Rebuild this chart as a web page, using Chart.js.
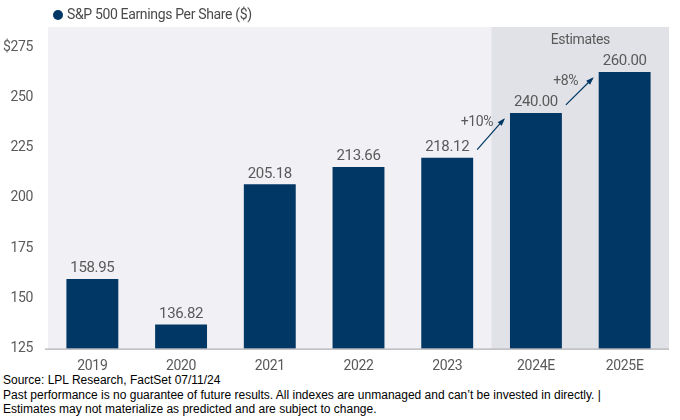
<!DOCTYPE html>
<html>
<head>
<meta charset="utf-8">
<script src="https://cdn.jsdelivr.net/npm/chart.js@4/dist/chart.umd.min.js"></script>
<style>
  body { margin: 0; background: #fff; }
  #wrap { position: relative; width: 680px; height: 420px; }
  #chartBox { position: absolute; left: 0; top: 0; width: 680px; height: 372px; }
  #legend { position: absolute; left: 53px; top: 6px; font: 14px Roboto, sans-serif; letter-spacing: -0.35px; color: #4a4a4a; }
  #legend .dot { display: inline-block; width: 10px; height: 10px; border-radius: 50%; background: #003764; margin-right: 4px; vertical-align: -1px; }
  #footer { position: absolute; left: 3px; top: 373px; font: 12px "Liberation Sans", Arial, sans-serif; line-height: 14.5px; color: #000; }
</style>
</head>
<body>
<div id="wrap">
  <div id="chartBox"><canvas id="epsChart"></canvas></div>
  <div id="legend"><span class="dot"></span>S&amp;P 500 Earnings Per Share ($)</div>
  <div id="footer">
    Source: LPL Research, FactSet 07/11/24<br>
    Past performance is no guarantee of future results. All indexes are unmanaged and can’t be invested in directly. |<br>
    Estimates may not materialize as predicted and are subject to change.
  </div>
</div>
<script>
// Chart data
const years = ['2019', '2020', '2021', '2022', '2023', '2024E', '2025E'];
const eps = [158.95, 136.82, 205.18, 213.66, 218.12, 240.00, 260.00];
const yTicks = [125, 150, 175, 200, 225, 250, 275];
const growthLabels = ['+10%', '+8%'];   // 2023 -> 2024E, 2024E -> 2025E
const firstEstimate = 5;                 // index of 2024E

const navy = '#003764';
const textGray = '#5a5a5a';
const fontFamily = 'Roboto, sans-serif';

// Draws the plot background, estimates shading, baseline, value labels and arrows
const decorations = {
  id: 'decorations',
  beforeDraw(chart) {
    chart.ctx.letterSpacing = '-0.35px';
  },
  beforeDatasetsDraw(chart) {
    const { ctx, chartArea, scales } = chart;
    const x = scales.x, y = scales.y;
    const catW = x.getPixelForValue(1) - x.getPixelForValue(0);
    const bottom = y.getPixelForValue(125);
    ctx.save();
    ctx.fillStyle = '#f0f0f5';
    ctx.fillRect(chartArea.left, chartArea.top, chartArea.width, bottom - chartArea.top);
    const estLeft = x.getPixelForValue(firstEstimate) - catW * 0.5;
    ctx.fillStyle = '#e1e2e7';
    ctx.fillRect(estLeft, chartArea.top, chartArea.right - estLeft, bottom - chartArea.top);
    ctx.fillStyle = textGray;
    ctx.font = '14px ' + fontFamily;
    ctx.textAlign = 'center';
    ctx.textBaseline = 'middle';
    ctx.fillText('Estimates', (estLeft + chartArea.right) / 2, chartArea.top + 13);
    ctx.restore();
  },
  afterDatasetsDraw(chart) {
    const { ctx, chartArea, scales } = chart;
    const y = scales.y;
    const bars = chart.getDatasetMeta(0).data;
    const bottom = y.getPixelForValue(125);
    ctx.save();
    // baseline
    ctx.strokeStyle = '#9a9aa0';
    ctx.lineWidth = 1;
    ctx.beginPath();
    ctx.moveTo(chartArea.left - 3, bottom + 0.5);
    ctx.lineTo(chartArea.right, bottom + 0.5);
    ctx.stroke();

    // value labels
    ctx.fillStyle = textGray;
    ctx.font = '15px ' + fontFamily;
    ctx.textAlign = 'center';
    ctx.textBaseline = 'bottom';
    bars.forEach((b, i) => {
      ctx.fillText(eps[i].toFixed(2), b.x, b.y - 3);
    });

    // growth arrows
    growthLabels.forEach((lbl, k) => {
      const i = firstEstimate - 1 + k;
      const a = bars[i], b = bars[i + 1];
      const x0 = a.x + a.width / 2 + 4;
      const y0 = y.getPixelForValue(eps[i] + 4);
      const x1 = b.x - b.width / 2 - 6;
      const y1 = y.getPixelForValue(eps[i + 1] - 3);
      ctx.strokeStyle = navy;
      ctx.fillStyle = navy;
      ctx.lineWidth = 1.2;
      ctx.beginPath();
      ctx.moveTo(x0, y0);
      ctx.lineTo(x1, y1);
      ctx.stroke();
      const ang = Math.atan2(y1 - y0, x1 - x0);
      const h = 7;
      ctx.beginPath();
      ctx.moveTo(x1 + 1, y1 - 1);
      ctx.lineTo(x1 - h * Math.cos(ang - 0.4), y1 - h * Math.sin(ang - 0.4));
      ctx.lineTo(x1 - h * Math.cos(ang + 0.4), y1 - h * Math.sin(ang + 0.4));
      ctx.closePath();
      ctx.fill();
      ctx.fillStyle = textGray;
      ctx.font = '14px ' + fontFamily;
      ctx.textAlign = 'center';
      ctx.textBaseline = 'middle';
      ctx.fillText(lbl, x1 - 27, y1 + 3);
    });
    ctx.restore();
  }
};

new Chart(document.getElementById('epsChart'), {
  type: 'bar',
  data: {
    labels: years,
    datasets: [{
      label: 'S&P 500 Earnings Per Share ($)',
      data: eps,
      backgroundColor: navy,
      barPercentage: 0.585,
      categoryPercentage: 1.0
    }]
  },
  options: {
    responsive: true,
    maintainAspectRatio: false,
    animation: false,
    layout: { padding: { top: 27, left: 0, right: 11, bottom: 0 } },
    plugins: {
      legend: { display: false },
      tooltip: { enabled: false }
    },
    scales: {
      x: {
        grid: { display: false, drawTicks: false },
        border: { display: false },
        ticks: { color: textGray, font: { family: fontFamily, size: 14 }, padding: 9 },
        afterFit(scale) { scale.height = 22; }
      },
      // value scale used by the bars
      y: {
        display: false,
        min: 125,
        max: 282
      },
      // scale carrying the printed tick labels
      yLabels: {
        position: 'left',
        min: 125,
        max: 285,
        grid: { display: false, drawTicks: false },
        border: { display: false },
        afterBuildTicks(scale) { scale.ticks = yTicks.map(v => ({ value: v })); },
        ticks: {
          color: textGray,
          font: { family: fontFamily, size: 14 },
          padding: 15,
          callback: v => (v === 275 ? '$' + v : String(v))
        },
        afterFit(scale) { scale.width = 48; }
      }
    }
  },
  plugins: [decorations]
});
</script>
</body>
</html>
